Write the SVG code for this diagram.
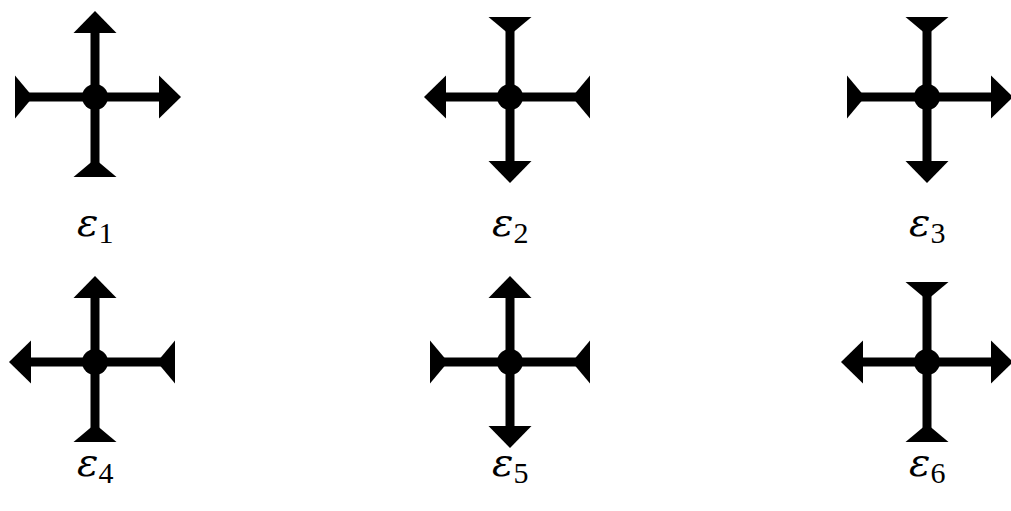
<svg xmlns="http://www.w3.org/2000/svg" xmlns:xlink="http://www.w3.org/1999/xlink" width="1011" height="511" viewBox="0 0 1011 511">
<style>
.arm{stroke:#000;stroke-width:9;fill:none}
.hd{fill:#000;stroke:none}
.lbl{font-family:"DejaVu Serif","Liberation Serif",serif;font-style:italic;font-size:40px;fill:#000}
.sub{font-family:"Liberation Serif",serif;font-style:normal;font-size:30px}
</style>
<defs>
<g id="out"><line class="arm" x1="0" y1="0" x2="66" y2="0"/><polygon class="hd" points="64,-21.5 86,0 64,21.5"/></g>
<g id="in"><line class="arm" x1="0" y1="0" x2="72" y2="0"/><polygon class="hd" points="80,-21.5 80,21.5 62,0"/></g>
<circle id="dot" r="13" fill="#000"/>
</defs>
<g id="e1" transform="translate(95,97)">
<use xlink:href="#out" transform="rotate(270)"/><use xlink:href="#out"/><use xlink:href="#in" transform="rotate(180)"/><use xlink:href="#in" transform="rotate(90)"/><use xlink:href="#dot"/>
</g>
<g id="e2" transform="translate(510,97)">
<use xlink:href="#in" transform="rotate(270)"/><use xlink:href="#in"/><use xlink:href="#out" transform="rotate(180)"/><use xlink:href="#out" transform="rotate(90)"/><use xlink:href="#dot"/>
</g>
<g id="e3" transform="translate(927,97)">
<use xlink:href="#in" transform="rotate(270)"/><use xlink:href="#out"/><use xlink:href="#in" transform="rotate(180)"/><use xlink:href="#out" transform="rotate(90)"/><use xlink:href="#dot"/>
</g>
<g id="e4" transform="translate(95,362)">
<use xlink:href="#out" transform="rotate(270)"/><use xlink:href="#in"/><use xlink:href="#out" transform="rotate(180)"/><use xlink:href="#in" transform="rotate(90)"/><use xlink:href="#dot"/>
</g>
<g id="e5" transform="translate(510,362)">
<use xlink:href="#out" transform="rotate(270)"/><use xlink:href="#in"/><use xlink:href="#in" transform="rotate(180)"/><use xlink:href="#out" transform="rotate(90)"/><use xlink:href="#dot"/>
</g>
<g id="e6" transform="translate(927,362)">
<use xlink:href="#in" transform="rotate(270)"/><use xlink:href="#out"/><use xlink:href="#out" transform="rotate(180)"/><use xlink:href="#in" transform="rotate(90)"/><use xlink:href="#dot"/>
</g>
<g id="labels">
<text class="lbl" x="77" y="236">ε<tspan class="sub" dy="7">1</tspan></text>
<text class="lbl" x="492" y="236">ε<tspan class="sub" dy="7">2</tspan></text>
<text class="lbl" x="909" y="236">ε<tspan class="sub" dy="7">3</tspan></text>
<text class="lbl" x="77" y="476">ε<tspan class="sub" dy="7">4</tspan></text>
<text class="lbl" x="492" y="476">ε<tspan class="sub" dy="7">5</tspan></text>
<text class="lbl" x="909" y="476">ε<tspan class="sub" dy="7">6</tspan></text>
</g>
</svg>
